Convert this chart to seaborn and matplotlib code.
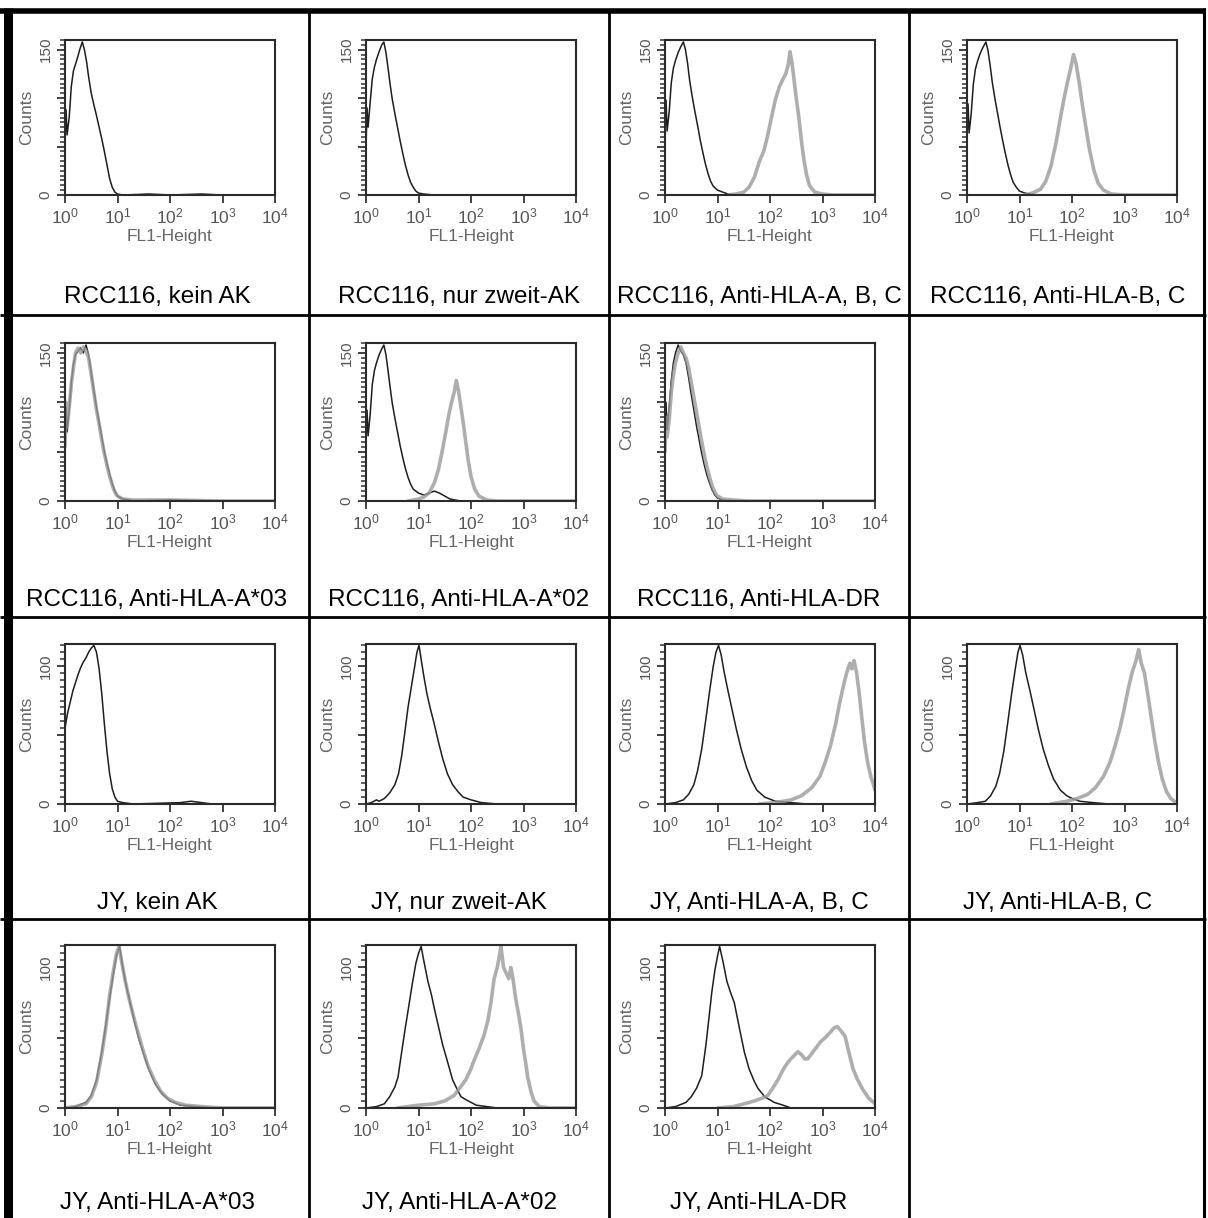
import numpy as np
import pandas as pd
import seaborn as sns
import matplotlib
matplotlib.use("Agg")
import matplotlib.pyplot as plt
from matplotlib.lines import Line2D
from matplotlib.ticker import MultipleLocator, LogLocator, NullFormatter

# ---------------- data: (log10 FL1-Height, counts) ----------------
rcc_kein_ctrl = [(0.00,55),(0.02,88),(0.04,62),(0.08,80),(0.12,112),(0.16,128),(0.20,135),(0.24,142),(0.28,150),(0.33,158),(0.37,150),(0.41,138),(0.45,122),(0.50,105),(0.55,93),(0.60,82),(0.65,70),(0.70,58),(0.75,45),(0.80,31),(0.85,17),(0.90,8),(0.95,3),(1.00,1),(1.10,0),(1.60,1),(2.00,0),(2.60,1),(3.00,0),(4.00,0)]

rcc_zweit_ctrl = [(0.00,48),(0.02,90),(0.04,70),(0.08,96),(0.12,120),(0.16,132),(0.20,140),(0.25,148),(0.30,155),(0.34,158),(0.38,147),(0.42,131),(0.46,114),(0.50,99),(0.55,84),(0.60,70),(0.65,56),(0.70,43),(0.75,31),(0.80,21),(0.85,13),(0.90,8),(0.95,4),(1.00,2),(1.10,1),(1.30,0),(2.00,0),(3.00,0),(4.00,0)]

rcc_abc_ctrl = [(0.00,62),(0.02,98),(0.04,66),(0.08,86),(0.12,116),(0.16,131),(0.20,139),(0.25,147),(0.30,153),(0.35,158),(0.39,150),(0.43,136),(0.47,118),(0.52,101),(0.57,86),(0.62,72),(0.67,57),(0.72,44),(0.77,32),(0.82,22),(0.87,14),(0.92,9),(1.00,5),(1.10,3),(1.20,1),(1.40,0),(2.00,0),(3.00,0),(4.00,0)]
rcc_abc_stain = [(1.20,0),(1.35,1),(1.50,3),(1.60,8),(1.70,18),(1.80,35),(1.88,45),(1.95,60),(2.02,78),(2.10,98),(2.18,112),(2.25,120),(2.30,125),(2.35,135),(2.38,148),(2.42,136),(2.46,118),(2.50,100),(2.55,80),(2.60,55),(2.65,35),(2.70,20),(2.75,10),(2.85,3),(3.00,1),(3.20,0),(4.00,0)]

rcc_bc_ctrl = [(0.00,58),(0.02,94),(0.04,64),(0.08,84),(0.12,114),(0.16,130),(0.20,138),(0.25,146),(0.30,152),(0.36,158),(0.40,149),(0.44,134),(0.48,117),(0.53,100),(0.58,85),(0.63,70),(0.68,56),(0.73,43),(0.78,31),(0.83,21),(0.88,13),(0.94,8),(1.00,4),(1.10,2),(1.30,0),(2.00,0),(3.00,0),(4.00,0)]
rcc_bc_stain = [(1.10,0),(1.25,2),(1.40,6),(1.50,14),(1.60,30),(1.70,55),(1.78,80),(1.85,100),(1.92,118),(1.98,132),(2.03,145),(2.08,135),(2.14,115),(2.20,92),(2.27,68),(2.34,45),(2.42,25),(2.50,12),(2.60,5),(2.75,1),(3.00,0),(4.00,0)]

rcc_a03_ctrl = [(0.00,60),(0.02,95),(0.04,70),(0.08,92),(0.12,120),(0.16,138),(0.20,148),(0.25,152),(0.30,155),(0.35,150),(0.40,158),(0.45,148),(0.50,130),(0.55,112),(0.60,95),(0.65,80),(0.70,65),(0.75,50),(0.80,38),(0.85,27),(0.90,18),(0.95,10),(1.00,5),(1.10,2),(1.30,0),(2.00,1),(3.00,0),(4.00,0)]
rcc_a03_stain = [(0.00,55),(0.02,100),(0.04,75),(0.08,95),(0.12,118),(0.16,135),(0.20,150),(0.25,155),(0.30,150),(0.35,156),(0.40,152),(0.45,145),(0.50,128),(0.55,110),(0.60,92),(0.65,78),(0.70,62),(0.75,48),(0.80,36),(0.85,25),(0.90,16),(0.95,9),(1.00,5),(1.10,2),(1.30,1),(2.00,1),(3.00,0),(4.00,0)]

rcc_a02_ctrl = [(0.00,58),(0.02,92),(0.04,66),(0.08,88),(0.12,118),(0.16,132),(0.20,140),(0.25,148),(0.30,154),(0.34,158),(0.38,148),(0.42,132),(0.46,115),(0.50,99),(0.55,84),(0.60,70),(0.65,56),(0.70,44),(0.75,33),(0.80,24),(0.85,17),(0.90,12),(1.00,8),(1.10,6),(1.20,8),(1.30,10),(1.40,8),(1.50,5),(1.60,2),(1.80,0),(4.00,0)]
rcc_a02_stain = [(0.80,0),(1.00,2),(1.10,4),(1.20,8),(1.30,18),(1.38,32),(1.45,50),(1.52,70),(1.58,88),(1.63,100),(1.68,110),(1.72,122),(1.76,112),(1.80,98),(1.85,80),(1.90,60),(1.95,40),(2.00,25),(2.07,12),(2.15,5),(2.30,1),(2.50,0),(4.00,0)]

rcc_dr_ctrl = [(0.00,65),(0.02,100),(0.04,72),(0.08,95),(0.12,122),(0.16,140),(0.20,150),(0.25,158),(0.30,152),(0.35,148),(0.40,140),(0.45,125),(0.50,108),(0.55,92),(0.60,76),(0.65,62),(0.70,48),(0.75,36),(0.80,26),(0.85,18),(0.90,11),(0.95,6),(1.00,3),(1.10,1),(1.30,0),(4.00,0)]
rcc_dr_stain = [(0.00,50),(0.02,85),(0.04,65),(0.08,82),(0.12,110),(0.16,128),(0.20,140),(0.25,150),(0.30,156),(0.35,150),(0.40,145),(0.45,135),(0.50,120),(0.55,105),(0.60,90),(0.65,75),(0.70,60),(0.75,46),(0.80,34),(0.85,24),(0.90,15),(0.95,9),(1.00,5),(1.10,2),(1.30,1),(1.60,0),(4.00,0)]

jy_kein_ctrl = [(0.00,55),(0.05,66),(0.10,74),(0.15,82),(0.20,88),(0.25,94),(0.30,99),(0.35,103),(0.40,106),(0.45,110),(0.50,113),(0.55,115),(0.60,110),(0.65,98),(0.70,80),(0.75,58),(0.80,38),(0.85,22),(0.90,11),(0.95,5),(1.00,2),(1.10,1),(1.30,0),(2.20,1),(2.40,2),(2.60,1),(2.80,0),(4.00,0)]

jy_zweit_ctrl = [(0.00,0),(0.10,1),(0.20,3),(0.25,2),(0.35,4),(0.45,8),(0.55,14),(0.62,22),(0.68,35),(0.74,52),(0.80,70),(0.86,84),(0.92,98),(0.97,110),(1.01,115),(1.05,105),(1.10,93),(1.16,80),(1.22,70),(1.30,58),(1.38,45),(1.46,33),(1.55,22),(1.65,14),(1.75,9),(1.85,5),(2.00,3),(2.20,1),(2.50,0),(4.00,0)]

jy_abc_ctrl = [(0.00,0),(0.20,1),(0.35,3),(0.45,7),(0.55,14),(0.62,24),(0.70,40),(0.78,62),(0.85,82),(0.92,100),(0.97,110),(1.02,115),(1.07,108),(1.13,95),(1.20,82),(1.28,68),(1.36,54),(1.45,40),(1.55,27),(1.65,17),(1.75,10),(1.90,5),(2.10,2),(2.40,1),(2.70,0),(4.00,0)]
jy_abc_stain = [(1.80,0),(2.10,1),(2.40,3),(2.60,6),(2.80,12),(2.95,20),(3.05,30),(3.15,42),(3.25,58),(3.32,72),(3.40,86),(3.46,95),(3.52,102),(3.56,98),(3.60,104),(3.65,95),(3.70,80),(3.75,62),(3.80,45),(3.86,30),(3.92,20),(3.97,14),(4.00,10)]

jy_bc_ctrl = [(0.00,0),(0.20,1),(0.35,2),(0.45,6),(0.55,13),(0.62,22),(0.70,38),(0.78,60),(0.85,80),(0.92,98),(0.97,110),(1.01,115),(1.06,108),(1.12,95),(1.20,82),(1.28,68),(1.36,54),(1.45,40),(1.55,28),(1.65,18),(1.78,10),(1.90,6),(2.00,4),(2.15,2),(2.40,1),(2.70,0),(4.00,0)]
jy_bc_stain = [(1.60,0),(1.90,2),(2.10,4),(2.30,7),(2.45,12),(2.60,20),(2.72,30),(2.82,42),(2.92,56),(3.00,70),(3.08,85),(3.15,96),(3.22,104),(3.27,112),(3.32,102),(3.38,95),(3.45,78),(3.52,60),(3.58,45),(3.65,30),(3.72,18),(3.80,9),(3.88,4),(3.95,2),(4.00,1)]

jy_a03_ctrl = [(0.00,0),(0.20,1),(0.40,4),(0.50,9),(0.60,20),(0.70,40),(0.78,60),(0.85,78),(0.92,95),(0.98,108),(1.04,115),(1.10,100),(1.16,88),(1.24,75),(1.32,62),(1.40,50),(1.50,38),(1.60,27),(1.72,17),(1.85,10),(2.00,5),(2.20,2),(2.50,1),(2.80,0),(4.00,0)]
jy_a03_stain = [(0.00,0),(0.20,1),(0.40,3),(0.50,8),(0.60,18),(0.70,38),(0.78,58),(0.85,80),(0.92,97),(0.98,110),(1.03,115),(1.08,104),(1.15,90),(1.22,78),(1.30,66),(1.38,55),(1.48,42),(1.58,30),(1.70,20),(1.82,12),(1.95,7),(2.10,4),(2.30,2),(2.60,1),(3.00,0),(4.00,0)]

jy_a02_ctrl = [(0.00,0),(0.20,1),(0.35,3),(0.45,8),(0.55,15),(0.61,22),(0.68,40),(0.74,55),(0.80,69),(0.88,88),(0.95,103),(1.00,110),(1.05,115),(1.10,105),(1.18,90),(1.25,80),(1.30,71),(1.38,58),(1.46,45),(1.56,32),(1.65,20),(1.74,13),(1.81,8),(1.90,6),(2.00,4),(2.10,2),(2.30,1),(2.50,0),(4.00,0)]
jy_a02_stain = [(0.60,0),(1.00,2),(1.30,3),(1.50,5),(1.68,9),(1.80,15),(1.90,20),(2.00,28),(2.06,34),(2.15,42),(2.25,52),(2.32,62),(2.38,75),(2.44,92),(2.50,100),(2.54,108),(2.57,115),(2.62,100),(2.67,96),(2.72,92),(2.76,100),(2.80,92),(2.85,78),(2.90,68),(2.95,57),(3.00,42),(3.05,30),(3.08,22),(3.14,12),(3.20,5),(3.30,1),(3.50,0),(4.00,0)]

jy_dr_ctrl = [(0.00,0),(0.20,1),(0.40,4),(0.50,8),(0.60,14),(0.70,23),(0.78,45),(0.84,65),(0.89,82),(0.95,98),(1.00,108),(1.04,115),(1.10,105),(1.18,90),(1.25,82),(1.32,75),(1.40,60),(1.51,40),(1.60,28),(1.70,19),(1.77,14),(1.90,8),(2.08,4),(2.25,2),(2.40,0),(4.00,0)]
jy_dr_stain = [(1.00,0),(1.30,1),(1.51,3),(1.70,5),(1.85,7),(1.96,9),(2.05,14),(2.15,20),(2.26,28),(2.35,33),(2.45,37),(2.53,40),(2.60,38),(2.66,35),(2.72,35),(2.80,39),(2.88,43),(2.96,47),(3.05,50),(3.15,54),(3.22,57),(3.28,58),(3.35,55),(3.43,51),(3.50,40),(3.58,28),(3.67,20),(3.77,13),(3.88,7),(4.00,3)]

captions = [
    "RCC116, kein AK", "RCC116, nur zweit-AK", "RCC116, Anti-HLA-A, B, C", "RCC116, Anti-HLA-B, C",
    "RCC116, Anti-HLA-A*03", "RCC116, Anti-HLA-A*02", "RCC116, Anti-HLA-DR",
    "JY, kein AK", "JY, nur zweit-AK", "JY, Anti-HLA-A, B, C", "JY, Anti-HLA-B, C",
    "JY, Anti-HLA-A*03", "JY, Anti-HLA-A*02", "JY, Anti-HLA-DR",
]
control_series = [rcc_kein_ctrl, rcc_zweit_ctrl, rcc_abc_ctrl, rcc_bc_ctrl, rcc_a03_ctrl, rcc_a02_ctrl, rcc_dr_ctrl,
                  jy_kein_ctrl, jy_zweit_ctrl, jy_abc_ctrl, jy_bc_ctrl, jy_a03_ctrl, jy_a02_ctrl, jy_dr_ctrl]
stain_series = [None, None, rcc_abc_stain, rcc_bc_stain, rcc_a03_stain, rcc_a02_stain, rcc_dr_stain,
                None, None, jy_abc_stain, jy_bc_stain, jy_a03_stain, jy_a02_stain, jy_dr_stain]
grid_cells = [(0, 0), (0, 1), (0, 2), (0, 3), (1, 0), (1, 1), (1, 2),
              (2, 0), (2, 1), (2, 2), (2, 3), (3, 0), (3, 1), (3, 2)]
count_top_tick = [150] * 7 + [100] * 7
count_ylim = [160] * 7 + [116] * 7
decade_ticks = [1, 10, 100, 1000, 10000]
decade_labels = ["$10^0$", "$10^1$", "$10^2$", "$10^3$", "$10^4$"]

# ---------------- style ----------------
sns.set_style("white")
plt.rcParams["font.family"] = ["Liberation Sans", "DejaVu Sans"]
plt.rcParams["mathtext.default"] = "regular"

W, H = 1208, 1218
fig = plt.figure(figsize=(W / 100, H / 100), dpi=100)
fig.patch.set_facecolor("white")

axes_left = [65, 366, 665, 967]
axes_top = [40, 343, 644, 945]
axes_h = [155, 158, 160, 163]
axes_w = 210
caption_y = [297, 600, 903, 1203]
caption_x = [157, 459, 759, 1058]

TXT = "#555555"


def to_df(series):
    return pd.DataFrame({"fl1": [10 ** p[0] for p in series], "counts": [p[1] for p in series]})


for i, cap in enumerate(captions):
    r, c = grid_cells[i]
    l, t, h = axes_left[c], axes_top[r], axes_h[r]
    ax = fig.add_axes([l / W, 1 - (t + h) / H, axes_w / W, h / H])
    ax.set_xscale("log")

    sns.lineplot(data=to_df(control_series[i]), x="fl1", y="counts", ax=ax,
                 color="#1e1e1e", lw=1.1, estimator=None, sort=False)
    if stain_series[i] is not None:
        sns.lineplot(data=to_df(stain_series[i]), x="fl1", y="counts", ax=ax,
                     color="#9a9a9a", lw=2.6, alpha=0.8, estimator=None, sort=False)

    ax.set_xlim(1, 10000)
    ax.set_ylim(0, count_ylim[i])
    top = count_top_tick[i]
    yt = list(range(0, top + 1, 50))
    ax.set_yticks(yt, labels=["0"] + [""] * (len(yt) - 2) + [str(top)])
    ax.yaxis.set_minor_locator(MultipleLocator(5))
    ax.set_xticks(decade_ticks, labels=decade_labels)
    ax.xaxis.set_minor_locator(LogLocator(base=10, subs=np.arange(2, 10)))
    ax.xaxis.set_minor_formatter(NullFormatter())
    for lab in ax.get_yticklabels():
        lab.set_rotation(90)
        lab.set_va("center")
    ax.tick_params(axis="both", which="both", bottom=True, left=True, top=False, right=False)
    ax.tick_params(axis="both", which="major", direction="out", length=6, width=1.3,
                   color="#333333", labelcolor=TXT, labelsize=12.5, pad=2)
    ax.tick_params(axis="both", which="minor", direction="out", length=3.5, width=1.1, color="#333333")
    ax.tick_params(axis="y", labelsize=11, pad=3)
    ax.set_xlabel("FL1-Height", fontsize=12.5, color="#666666", labelpad=2)
    ax.set_ylabel("Counts", fontsize=12.5, color="#666666", labelpad=3)
    for sp in ax.spines.values():
        sp.set_visible(True)
        sp.set_color("#2a2a2a")
        sp.set_linewidth(1.5)
    ax.set_facecolor("white")

    fig.text(caption_x[c] / W, 1 - caption_y[r] / H, cap, ha="center", va="center",
             fontsize=17.5, color="black")

# ---------------- cell grid ----------------
def hline(y, x0, x1, lw):
    fig.add_artist(Line2D([x0 / W, x1 / W], [1 - y / H, 1 - y / H], transform=fig.transFigure,
                          color="black", lw=lw, solid_capstyle="butt"))


def vline(x, y0, y1, lw):
    fig.add_artist(Line2D([x / W, x / W], [1 - y0 / H, 1 - y1 / H], transform=fig.transFigure,
                          color="black", lw=lw, solid_capstyle="butt"))

hline(10.5, 0, 1206, 4.0)
for y in [315, 617, 919]:
    hline(y, 0, 1206, 2.0)
vline(8, 8, H, 6.5)
for x in [309, 609, 909]:
    vline(x, 10, H, 2.0)
vline(1204, 8, H, 2.2)

fig.savefig("out.png", dpi=100, facecolor="white")
